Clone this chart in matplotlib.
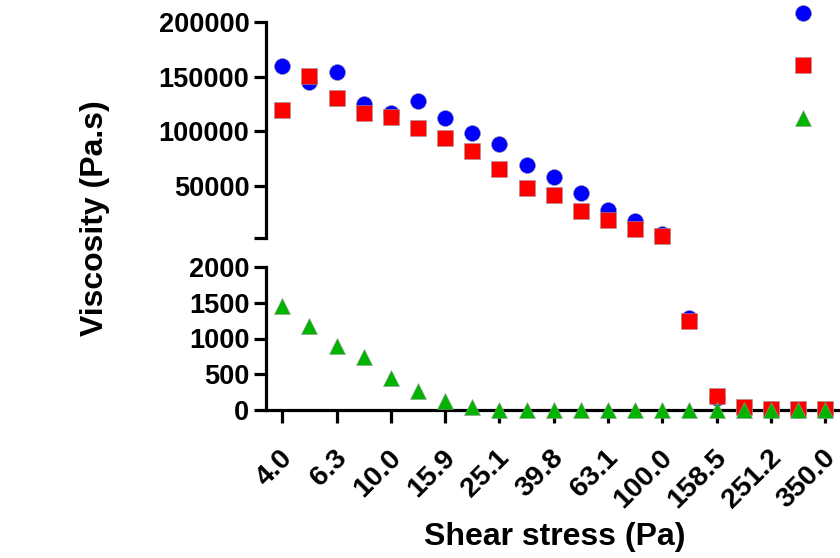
import numpy as np
import matplotlib
matplotlib.use('Agg')
import matplotlib.pyplot as plt
import matplotlib.transforms as mtrans
from matplotlib.lines import Line2D

plt.rcParams['font.family'] = ['Liberation Sans', 'DejaVu Sans']
plt.rcParams['font.weight'] = 'bold'

# shear stress steps (Pa), only every other one is labelled
stress = [4.0, 5.0, 6.3, 7.9, 10.0, 12.6, 15.9, 20.0, 25.1, 31.6, 39.8,
          50.1, 63.1, 79.4, 100.0, 125.9, 158.5, 199.5, 251.2, 316.2, 350.0]
visc_blue = [160000, 145000, 154000, 125000, 117000, 128000, 112000, 98000,
             88500, 69000, 57500, 43500, 28000, 17500, 6000, 1290, 170, 15,
             8, 5, 3]
visc_red = [119000, 150500, 130000, 116500, 112500, 102500, 93500, 81500,
            65500, 47500, 41500, 27000, 18500, 10500, 3800, 1245, 195, 40,
            20, 15, 10]
visc_green = [1455, 1180, 895, 740, 450, 265, 130, 42, 5, 2, 1, 0, 0, 0,
              0, 0, 0, 0, 0, 0, 0]

x = np.arange(len(stress))
series = [(visc_blue, 'o', '#0000ff', 11.5),
          (visc_red, 's', '#ff0000', 11.5),
          (visc_green, '^', '#00b400', 11.5)]

fig = plt.figure(figsize=(8.4, 5.58), dpi=100)
ax_top = fig.add_axes([266/840, 1 - 238/558, 574/840, 216/558])
ax_bot = fig.add_axes([266/840, 1 - 410/558, 574/840, 143/558])

brk = 2000
for vals, m, c, ms in series:
    v = np.array(vals, dtype=float)
    hi = v >= brk
    lo = v <= brk
    ax_top.plot(x[hi], v[hi], ls='none', marker=m, color=c, ms=ms,
                mec='#999999', mew=0.4, clip_on=False, zorder=3)
    ax_bot.plot(x[lo], v[lo], ls='none', marker=m, color=c, ms=ms,
                mec='#999999', mew=0.4, clip_on=False, zorder=3)

lw = 2.3
for ax in (ax_top, ax_bot):
    ax.set_xlim(-0.6, 20.55)
    ax.spines['top'].set_visible(False)
    ax.spines['right'].set_visible(False)
    ax.spines['left'].set_linewidth(lw)
    ax.spines['bottom'].set_linewidth(lw)
    ax.tick_params(width=lw, length=9, labelsize=19.5, pad=3)

ax_top.set_ylim(brk, 200000)
ax_top.spines['bottom'].set_visible(False)
ax_top.set_xticks([])
ax_top.set_yticks([brk, 50000, 100000, 150000, 200000])
ax_top.set_yticklabels(['', '50000', '100000', '150000', '200000'])

ax_bot.set_ylim(0, brk)
ax_bot.set_yticks([0, 500, 1000, 1500, 2000])
ax_bot.set_yticklabels(['0', '500', '1000', '1500', '2000'])
ax_bot.set_xticks(x[::2])
ax_bot.set_xticklabels(['%.1f' % s for s in stress[::2]], rotation=45,
                       ha='right', rotation_mode='anchor')
ax_bot.tick_params(axis='x', pad=16, labelsize=20.5)
shift = mtrans.ScaledTranslation(-3/100, 0, fig.dpi_scale_trans)
for lab in ax_bot.get_xticklabels():
    lab.set_transform(lab.get_transform() + shift)

fig.text(95/840, 1 - 218/558, 'Viscosity (Pa.s)', rotation=90,
         ha='center', va='center', fontsize=23, fontweight='bold')
fig.text(555/840, 1 - 537/558, 'Shear stress (Pa)', ha='center',
         va='center', fontsize=23, fontweight='bold')

# legend, text labels fall outside the picture
handles = [Line2D([], [], ls='none', marker=m, color=c, ms=ms,
                  mec='#999999', mew=0.4) for _, m, c, ms in series]
fig.legend(handles, ['', '', ''], loc='center',
           bbox_to_anchor=(803/840, 1 - 68/558), frameon=False,
           handletextpad=0, borderpad=0, handlelength=1.0,
           fontsize=22, labelspacing=0.74)

fig.savefig('out.png', dpi=100)
